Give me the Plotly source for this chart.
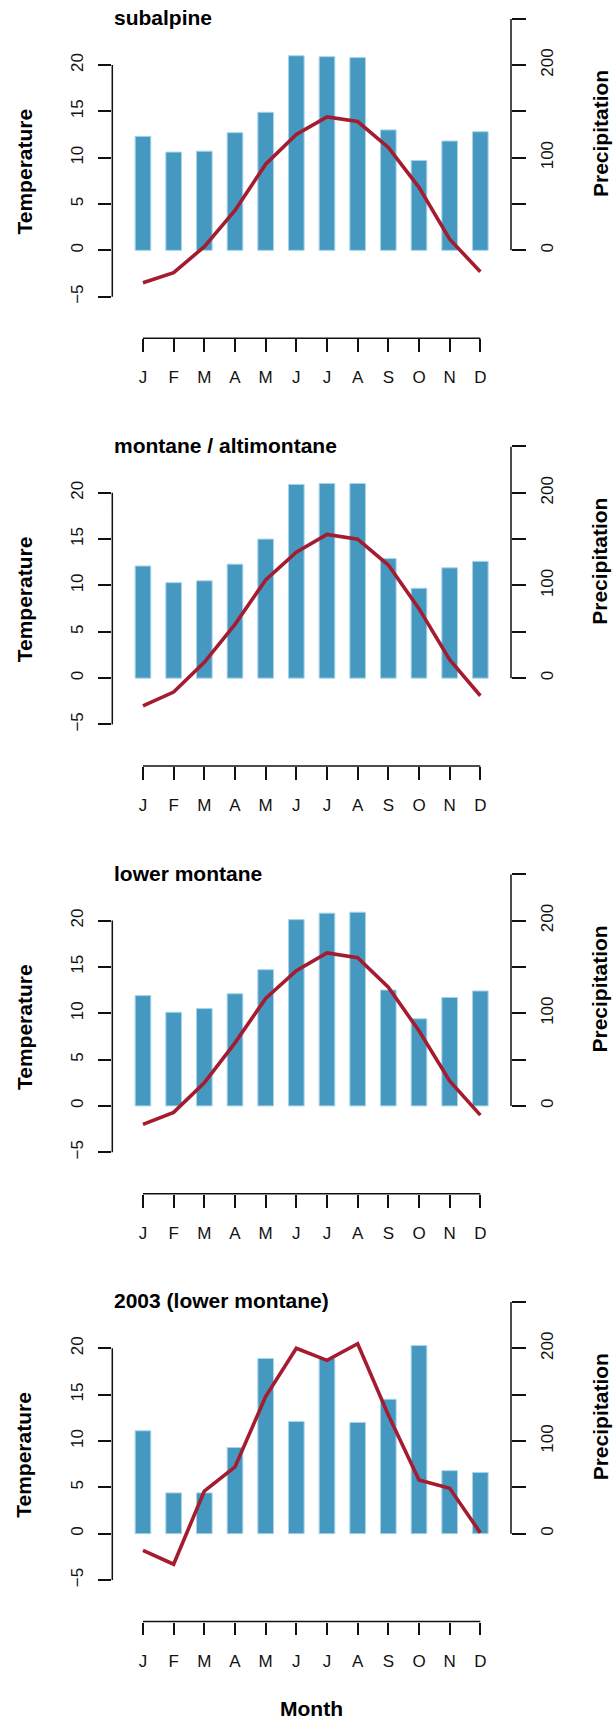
import plotly.graph_objects as go

months = ["J", "F", "M", "A", "M", "J", "J", "A", "S", "O", "N", "D"]
month_idx = list(range(1, 13))
titles = ["subalpine", "montane / altimontane", "lower montane", "2003 (lower montane)"]

precip_subalpine = [123, 106, 107, 127, 149, 210, 209, 208, 130, 97, 118, 128]
temp_subalpine = [-3.5, -2.4, 0.4, 4.3, 9.3, 12.5, 14.4, 13.9, 11.1, 6.8, 1.2, -2.3]

precip_montane = [121, 103, 105, 123, 150, 209, 210, 210, 129, 97, 119, 126]
temp_montane = [-3.0, -1.5, 1.7, 5.8, 10.6, 13.6, 15.5, 15.0, 12.2, 7.5, 2.0, -1.9]

precip_lower = [119, 101, 105, 121, 147, 201, 208, 209, 125, 94, 117, 124]
temp_lower = [-2.0, -0.7, 2.5, 6.8, 11.6, 14.6, 16.5, 16.0, 12.8, 8.1, 2.7, -1.0]

precip_2003 = [111, 44, 44, 93, 189, 121, 189, 120, 145, 203, 68, 66]
temp_2003 = [-1.8, -3.3, 4.6, 7.2, 14.8, 20.0, 18.7, 20.5, 12.8, 5.8, 4.9, 0.1]

precip_sets = [precip_subalpine, precip_montane, precip_lower, precip_2003]
temp_sets = [temp_subalpine, temp_montane, temp_lower, temp_2003]

temp_ticks = [-5, 0, 5, 10, 15, 20]
precip_ticks = [0, 50, 100, 150, 200, 250]
precip_ticktext = ["0", "", "100", "", "200", ""]

W, H = 613, 1723
FONT = "Liberation Sans, Arial, Helvetica, sans-serif"
BAR_COLOR = "#4599C1"
BAR_EDGE = "#A9D4E8"
LINE_COLOR = "#A51C30"
AX_COLOR = "#111111"
TICK_SIZE = 17

# geometry (pixels)
x_left, x_right = 112.3, 511.0
first_y20 = 65.0
pitch = 427.77
k = 9.268                 # px per degree C
t_top, t_bot = 25.0, -9.49
p_top, p_bot = 250.0, -94.9

fig = go.Figure()
layout = dict(
    width=W, height=H, autosize=False,
    margin=dict(l=0, r=0, t=0, b=0),
    paper_bgcolor="white", plot_bgcolor="white",
    showlegend=False,
    font=dict(family=FONT, color="black", size=TICK_SIZE),
)
shapes = []
annotations = []

for i in range(4):
    y20 = first_y20 + i * pitch
    top_px = y20 - (t_top - 20) * k
    bot_px = y20 + (20 - t_bot) * k
    dom = [1 - bot_px / H, 1 - top_px / H]
    xn = i + 1
    yp = 2 * i + 1   # precipitation (base axis, right side)
    yt = 2 * i + 2   # temperature (overlaying, left side -> drawn on top)
    xname = "x" if xn == 1 else f"x{xn}"
    ypname = "y" if yp == 1 else f"y{yp}"
    ytname = f"y{yt}"

    fig.add_trace(go.Bar(
        x=month_idx, y=precip_sets[i], width=0.51,
        marker=dict(color=BAR_COLOR, line=dict(color=BAR_EDGE, width=1)),
        xaxis=xname, yaxis=ypname, hoverinfo="skip",
    ))
    fig.add_trace(go.Scatter(
        x=month_idx, y=temp_sets[i], mode="lines",
        line=dict(color=LINE_COLOR, width=3.6),
        xaxis=xname, yaxis=ytname, hoverinfo="skip",
    ))

    layout["xaxis" if xn == 1 else f"xaxis{xn}"] = dict(
        domain=[x_left / W, x_right / W], range=[0, 13],
        anchor=ypname, tickmode="array", tickvals=month_idx, ticktext=months,
        ticks="outside", ticklen=12.7, tickwidth=1.5, tickcolor=AX_COLOR,
        showline=False, showgrid=False, zeroline=False,
        tickfont=dict(size=TICK_SIZE, family=FONT, color="#111"),
        ticklabelstandoff=11,
    )
    layout["yaxis" if yp == 1 else f"yaxis{yp}"] = dict(
        domain=dom, range=[p_bot, p_top], anchor=xname,
        side="right", tickmode="array", tickvals=precip_ticks, ticktext=precip_ticktext,
        ticks="outside", ticklen=13.5, tickwidth=1.5, tickcolor=AX_COLOR,
        tickangle=-90, showline=False, showgrid=False, zeroline=False,
        tickfont=dict(size=TICK_SIZE, family=FONT, color="#111"),
        ticklabelstandoff=7,
    )
    layout[f"yaxis{yt}"] = dict(
        domain=dom, range=[t_bot, t_top], anchor=xname, overlaying=ypname,
        side="left", tickmode="array", tickvals=temp_ticks,
        ticks="outside", ticklen=13.5, tickwidth=1.5, tickcolor=AX_COLOR,
        tickangle=-90, showline=False, showgrid=False, zeroline=False,
        tickfont=dict(size=TICK_SIZE, family=FONT, color="#111"),
        ticklabelstandoff=8,
    )

    # axis lines spanning only the tick range (R style)
    shapes.append(dict(type="line", xref=xname, yref=f"{ypname} domain",
                       x0=month_idx[0], x1=month_idx[-1], y0=0, y1=0,
                       line=dict(color=AX_COLOR, width=1.5)))
    shapes.append(dict(type="line", xref=f"{xname} domain", yref=ytname,
                       x0=0, x1=0, y0=temp_ticks[0], y1=temp_ticks[-1],
                       line=dict(color=AX_COLOR, width=1.5)))
    shapes.append(dict(type="line", xref=f"{xname} domain", yref=ypname,
                       x0=1, x1=1, y0=precip_ticks[0], y1=precip_ticks[-1],
                       line=dict(color=AX_COLOR, width=1.5)))

    # panel title
    annotations.append(dict(text=f"<b>{titles[i]}</b>", xref="paper", yref="paper",
                            x=x_left / W, y=1 - (top_px - 1) / H,
                            xanchor="left", yanchor="middle", showarrow=False,
                            font=dict(size=21, family=FONT, color="black")))
    # left label
    annotations.append(dict(text="<b>Temperature</b>", xref="paper", yref="paper",
                            x=24 / W, y=1 - (y20 + 106.5) / H, textangle=-90,
                            xanchor="center", yanchor="middle", showarrow=False,
                            font=dict(size=21, family=FONT, color="black")))
    # right label
    annotations.append(dict(text="<b>Precipitation</b>", xref="paper", yref="paper",
                            x=600 / W, y=1 - (y20 + 69) / H, textangle=-90,
                            xanchor="center", yanchor="middle", showarrow=False,
                            font=dict(size=21, family=FONT, color="black")))

annotations.append(dict(text="<b>Month</b>", xref="paper", yref="paper",
                        x=311.5 / W, y=1 - 1708 / H,
                        xanchor="center", yanchor="middle", showarrow=False,
                        font=dict(size=21, family=FONT, color="black")))

layout["shapes"] = shapes
layout["annotations"] = annotations
fig.update_layout(**layout)
fig.write_html("out.html")
